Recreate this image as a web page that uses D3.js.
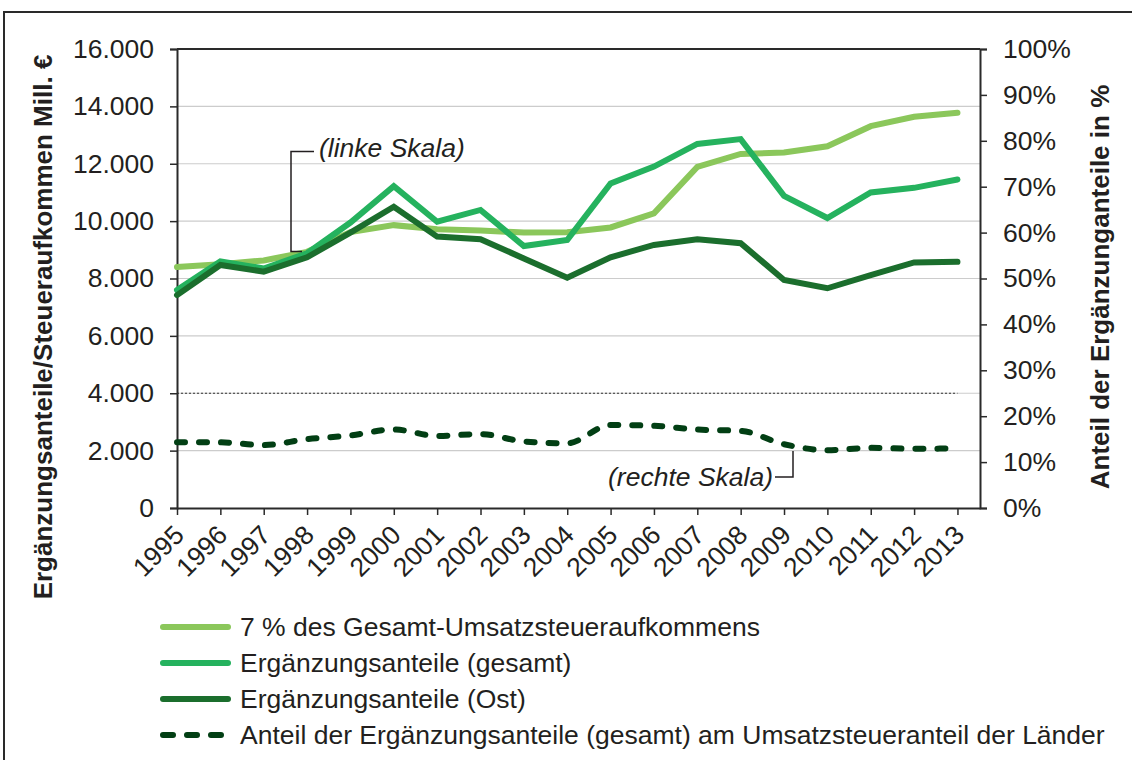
<!DOCTYPE html>
<html>
<head>
<meta charset="utf-8">
<script src="https://cdn.jsdelivr.net/npm/d3@7"></script>
<style>
  body { margin: 0; background: #fff; }
  svg { display: block; font-family: "Liberation Sans", Arial, sans-serif; }
</style>
</head>
<body>
<svg id="chart" width="1132" height="760"></svg>
<script>
// data
var years = [1995, 1996, 1997, 1998, 1999, 2000, 2001, 2002, 2003, 2004,
             2005, 2006, 2007, 2008, 2009, 2010, 2011, 2012, 2013];
// 7 % des Gesamt-Umsatzsteueraufkommens (Mill. €)
var ustSieben = [8400, 8500, 8630, 8930, 9620, 9860, 9720, 9670, 9600, 9610,
                 9780, 10270, 11890, 12340, 12390, 12610, 13310, 13640, 13780];
// Ergänzungsanteile gesamt (Mill. €)
var ergGesamt = [7600, 8600, 8350, 8880, 9950, 11220, 9980, 10390, 9130, 9340,
                 11310, 11900, 12690, 12860, 10880, 10110, 11000, 11160, 11450];
// Ergänzungsanteile Ost (Mill. €)
var ergOst = [7420, 8470, 8240, 8740, 9600, 10500, 9460, 9370, 8700, 8030,
              8740, 9170, 9370, 9230, 7950, 7660, 8120, 8560, 8580];
// Anteil der Ergänzungsanteile am Umsatzsteueranteil der Länder (%)
var anteilProzent = [14.3, 14.3, 13.7, 15.0, 15.8, 17.1, 15.7, 16.1, 14.5, 14.1,
                     18.1, 17.9, 17.1, 16.8, 13.9, 12.6, 13.1, 12.9, 13.0];

var leftTicks = [0, 2000, 4000, 6000, 8000, 10000, 12000, 14000, 16000];
var rightTicks = [0, 10, 20, 30, 40, 50, 60, 70, 80, 90, 100];

var legendLabels = [
  "7 % des Gesamt-Umsatzsteueraufkommens",
  "Ergänzungsanteile (gesamt)",
  "Ergänzungsanteile (Ost)",
  "Anteil der Ergänzungsanteile (gesamt) am Umsatzsteueranteil der Länder"
];
var colors = ["#8bc75b", "#25b25e", "#1b6e2d", "#023f14"];

(function () {
  var svg = d3.select("#chart");
  var pLeft = 177, pRight = 980, pTop = 49, pBottom = 508;
  var fs = 26.5, ink = "#231f20";

  var x = d3.scaleLinear().domain([1995, 2013.52]).range([pLeft, pRight]);
  var yL = d3.scaleLinear().domain([0, 16000]).range([pBottom, pTop]);
  var yR = d3.scaleLinear().domain([0, 100]).range([pBottom, pTop]);

  // outer frame
  svg.append("rect").attr("x", 4).attr("y", 12).attr("width", 1140).attr("height", 760)
    .attr("fill", "none").attr("stroke", "#2a2a2a").attr("stroke-width", 2);

  // gridlines
  svg.append("g").selectAll("line").data(leftTicks.slice(1, -1)).enter().append("line")
    .attr("x1", pLeft).attr("x2", pRight)
    .attr("y1", function (d) { return yL(d); }).attr("y2", function (d) { return yL(d); })
    .attr("stroke", "#cccccc").attr("stroke-width", 1.2);

  // dotted line at 4.000
  svg.append("line").attr("x1", x(1995)).attr("x2", x(2013))
    .attr("y1", yL(4000)).attr("y2", yL(4000))
    .attr("stroke", "#333").attr("stroke-width", 1).attr("stroke-dasharray", "2,2");

  // plot box top
  svg.append("line").attr("x1", pLeft).attr("x2", pRight).attr("y1", pTop).attr("y2", pTop)
    .attr("stroke", "#2a2a2a").attr("stroke-width", 2);

  var fmt = function (d) { return d3.format(",")(d).replace(/,/g, "."); };

  var axL = svg.append("g").attr("transform", "translate(" + pLeft + ",0)")
    .call(d3.axisLeft(yL).tickValues(leftTicks).tickFormat(fmt).tickSize(7).tickPadding(16));
  var axR = svg.append("g").attr("transform", "translate(" + pRight + ",0)")
    .call(d3.axisRight(yR).tickValues(rightTicks).tickFormat(function (d) { return d + "%"; })
      .tickSize(7).tickPadding(16));
  var axB = svg.append("g").attr("transform", "translate(0," + pBottom + ")")
    .call(d3.axisBottom(x).tickValues(years).tickFormat("").tickSize(7).tickSizeOuter(0));

  [axL, axR, axB].forEach(function (a) {
    a.select(".domain").attr("stroke", "#2a2a2a").attr("stroke-width", 2);
    a.selectAll(".tick line").attr("stroke", "#2a2a2a").attr("stroke-width", 1.5);
    a.selectAll("text").attr("font-size", fs).attr("fill", ink)
      .attr("font-family", "'Liberation Sans', Arial, sans-serif");
  });

  // rotated year labels
  svg.append("g").selectAll("text").data(years).enter().append("text")
    .attr("transform", function (d) { return "translate(" + (x(d) + 2) + ",530) rotate(-45)"; })
    .attr("text-anchor", "end").attr("dy", "0.35em")
    .attr("font-size", fs).attr("fill", ink)
    .text(function (d) { return d; });

  // axis titles
  svg.append("text").attr("transform", "translate(52,327) rotate(-90)")
    .attr("text-anchor", "middle").attr("font-weight", "bold").attr("font-size", 26)
    .attr("fill", ink).text("Ergänzungsanteile/Steueraufkommen Mill. €");
  svg.append("text").attr("transform", "translate(1109,287) rotate(-90)")
    .attr("text-anchor", "middle").attr("font-weight", "bold").attr("font-size", 26)
    .attr("fill", ink).text("Anteil der Ergänzunganteile in %");

  // lines
  var lineL = d3.line().x(function (d, i) { return x(years[i]); }).y(function (d) { return yL(d); });
  var lineR = d3.line().x(function (d, i) { return x(years[i]); }).y(function (d) { return yR(d); })
    .curve(d3.curveMonotoneX);

  [ustSieben, ergGesamt, ergOst].forEach(function (s, i) {
    svg.append("path").datum(s).attr("d", lineL).attr("fill", "none")
      .attr("stroke", colors[i]).attr("stroke-width", 6)
      .attr("stroke-linejoin", "miter").attr("stroke-linecap", "round");
  });
  svg.append("path").datum(anteilProzent).attr("d", lineR).attr("fill", "none")
    .attr("stroke", colors[3]).attr("stroke-width", 6)
    .attr("stroke-dasharray", "8,14").attr("stroke-linecap", "round");

  // annotations
  svg.append("path").attr("d", "M314,151.5H291V251.5H302").attr("fill", "none")
    .attr("stroke", ink).attr("stroke-width", 1.5);
  svg.append("text").attr("x", 319).attr("y", 157).attr("font-style", "italic")
    .attr("font-size", fs).attr("fill", ink).text("(linke Skala)");
  svg.append("path").attr("d", "M775,477H793V451").attr("fill", "none")
    .attr("stroke", ink).attr("stroke-width", 1.5);
  svg.append("text").attr("x", 773).attr("y", 486).attr("text-anchor", "end").attr("font-style", "italic")
    .attr("font-size", fs).attr("fill", ink).text("(rechte Skala)");

  // legend
  var leg = svg.append("g").selectAll("g").data(legendLabels).enter().append("g")
    .attr("transform", function (d, i) { return "translate(0," + (627 + i * 36) + ")"; });
  leg.append("line").attr("x1", 163).attr("x2", 228).attr("y1", 0).attr("y2", 0)
    .attr("stroke", function (d, i) { return colors[i]; }).attr("stroke-width", 6)
    .attr("stroke-linecap", "round")
    .attr("stroke-dasharray", function (d, i) { return i === 3 ? "10,14" : null; });
  leg.append("text").attr("x", 240).attr("dy", "0.35em").attr("font-size", fs)
    .attr("fill", ink).text(function (d) { return d; });
})();
</script>
</body>
</html>
